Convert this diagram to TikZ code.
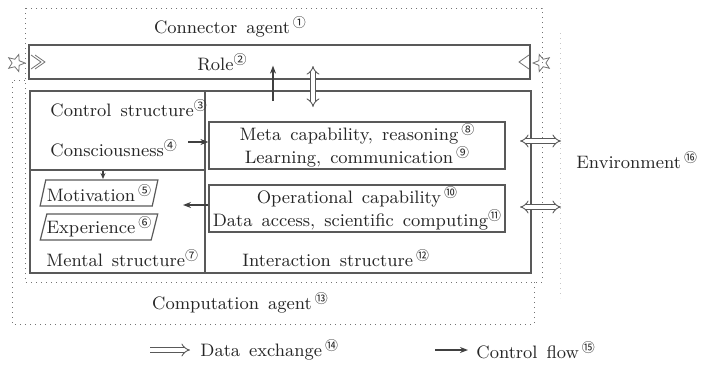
\documentclass[tikz,border=0pt]{standalone}
\usepackage{fontspec}
\newfontfamily\cjk{Noto Sans CJK SC}
\usetikzlibrary{arrows.meta,shapes.geometric}
\newcommand\cn[1]{\raisebox{0.75ex}{\cjk\fontsize{6.5}{6.5}\selectfont #1}}
\newcommand\wsp{\spaceskip=0.5em plus 0.1em\relax}
\begin{document}
\begin{tikzpicture}[x=0.5pt,y=-0.5pt,
  txt/.style={font=\fontsize{9}{9.5}\selectfont\wsp, text=black!85, inner sep=1pt},
  boxl/.style={draw=black!65, line width=0.6pt},
  dots/.style={draw=black!55, dotted, line width=0.5pt},
  faint/.style={draw=black!22, dotted, line width=0.5pt},
  ctl/.style={draw=black!75, line width=0.7pt, -{Stealth[length=4pt,width=3pt]}},
  dex/.style={draw=black!65, double, double distance=1.8pt, line width=0.45pt, {Implies}-{Implies}},
  dexone/.style={draw=black!65, double, double distance=1.8pt, line width=0.45pt, -{Implies}},
  para/.style={trapezium, trapezium left angle=72, trapezium right angle=108, trapezium stretches=true,
    draw=black!65, line width=0.6pt, minimum width=59pt, minimum height=13pt, inner sep=0pt,
    font=\fontsize{9}{9.5}\selectfont, text=black!85},
  capbox/.style={draw=black!65, line width=0.6pt, align=center, inner sep=1pt,
    font=\fontsize{9}{9.5}\selectfont\wsp, text=black!85},
  starsh/.style={star, star points=5, star point ratio=2.3, draw=black!55, line width=0.4pt, minimum size=9pt, inner sep=0pt}
]
\useasboundingbox (0,0) rectangle (702,365);

% agent boundaries
\draw[dots] (25,8) rectangle (542,282);
\draw[dots] (25,80) -- (12,80) -- (12,324) -- (534,324) -- (534,282);
\draw[faint] (560,33) -- (560,298);

\node[txt] (conn) at (230,27) {Connector agent\,\cn{①}};

% role
\node[boxl, draw, minimum width=250.5pt, minimum height=17pt, inner sep=0pt] (rolebox) at (279.5,62) {};
\node[txt] (role) at (222,62) {Role\cn{②}};
\node[starsh, rotate=-90] (lstar) at (16,63) {};
\draw[draw=black!55, line width=0.4pt] (31,55) -- (41,62) -- (31,69);
\draw[draw=black!55, line width=0.4pt] (35,55) -- (45,62) -- (35,69);
\node[starsh, rotate=90] (rstar) at (542,63) {};
\draw[draw=black!55, line width=0.4pt] (529,55) -- (519,62) -- (529,69);

% main structure box
\draw[boxl] (30,91) rectangle (531,273);
\draw[boxl] (205,91) -- (205,273);
\draw[boxl] (30,170) -- (205,170);

\node[txt, anchor=west] (ctrl) at (48,108) {Control structure\cn{③}};
\node[txt, anchor=west] (cons) at (48,148) {Consciousness\cn{④}};
\node[para] (moti) at (99,193) {Motivation\,\cn{⑤}};
\node[para] (expe) at (99,227) {Experience\,\cn{⑥}};
\node[txt, anchor=west] (ment) at (44,258) {Mental structure\cn{⑦}};
\node[txt, anchor=west] (inter) at (240,258) {Interaction structure\,\cn{⑫}};

\node[capbox, minimum width=148pt, minimum height=22.5pt] (meta) at (357,145.5)
  {Meta capability, reasoning\,\cn{⑧}\\Learning, communication\,\cn{⑨}};
\node[capbox, minimum width=148pt, minimum height=21.5pt] (oper) at (357,208.5)
  {Operational capability\,\cn{⑩}\\Data access, scientific computing\cn{⑪}};

\node[txt, anchor=west] (env) at (574,160) {Environment\,\cn{⑯}};
\node[txt] (comp) at (240,303) {Computation agent\,\cn{⑬}};

% control flows
\coordinate (c1) at (188,142);
\draw[ctl] (c1) -- (meta.west |- c1);
\coordinate (c2) at (183,205);
\draw[ctl] (oper.west |- c2) -- (c2);
\coordinate (c3) at (103,171);
\coordinate (c4) at (103,179);
\draw[ctl, -{Stealth[length=3pt,width=2.5pt]}] (c3) -- (c4);
\coordinate (u1) at (273,101);
\draw[ctl, line width=0.9pt] (u1) -- (rolebox.south -| u1) -- ++(0,-14);

% data exchanges
\coordinate (d1) at (313,107);
\draw[dex] (d1) -- (313,66);
\coordinate (e1) at (520,141);
\coordinate (e2) at (561,141);
\draw[dex] (e1) -- (e2);
\coordinate (e3) at (520,207);
\coordinate (e4) at (561,207);
\draw[dex] (e3) -- (e4);

% legend
\coordinate (l1) at (150,350);
\coordinate (l2) at (190,350);
\draw[dexone] (l1) -- (l2);
\node[txt, anchor=west] (lgd) at (198,350) {Data exchange\,\cn{⑭}};
\coordinate (l3) at (435,350);
\coordinate (l4) at (468,350);
\draw[ctl] (l3) -- (l4);
\node[txt, anchor=west] (lgc) at (474,350) {Control flow\,\cn{⑮}};
\end{tikzpicture}
\end{document}
